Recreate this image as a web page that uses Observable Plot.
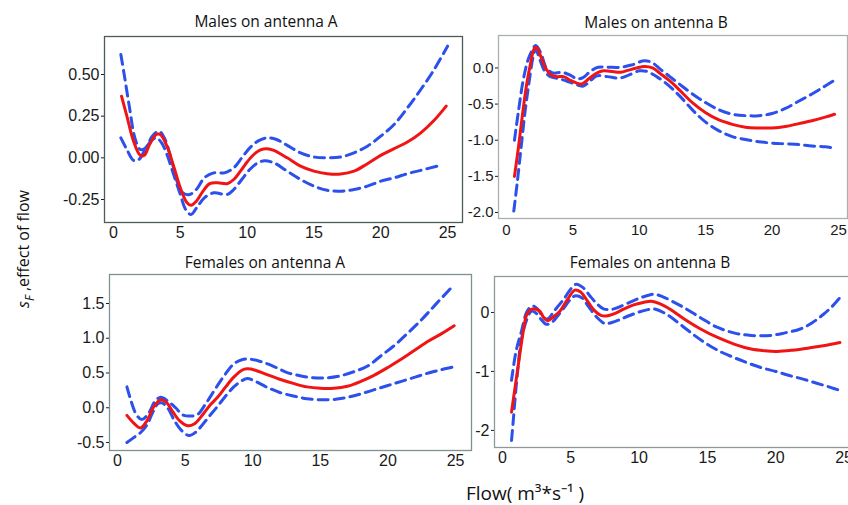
<!DOCTYPE html>
<html>
<head>
<meta charset="utf-8">
<script src="https://cdn.jsdelivr.net/npm/d3@7"></script>
<script src="https://cdn.jsdelivr.net/npm/@observablehq/plot@0.6"></script>
<style>
  html, body { margin: 0; padding: 0; background: #fff; }
  #wrap { position: relative; width: 848px; height: 505px; overflow: hidden; background: #fff; }
  .panel { position: absolute; }
  .title { position: absolute; transform: translate(-50%, -50%); font-family: "Open Sans", sans-serif; font-size: 15.5px; color: #111; white-space: nowrap; }
  #ylab { position: absolute; left: 25px; top: 249px; transform: translate(-50%, -50%) rotate(-90deg); font-family: "Open Sans", sans-serif; font-size: 16px; color: #111; white-space: nowrap; }
  #xlab { position: absolute; left: 525px; top: 493px; transform: translate(-50%, -50%); font-family: "Open Sans", sans-serif; font-size: 19px; line-height: 24px; color: #111; white-space: nowrap; }
</style>
</head>
<body>
<div id="wrap"></div>
<script>
// ---------- data (flow m^3/s, effect) ----------
const panelTitles = ["Males on antenna A", "Males on antenna B", "Females on antenna A", "Females on antenna B"];
const xTicks = [0, 5, 10, 15, 20, 25];
const yTicksMA = [-0.25, 0, 0.25, 0.5];
const yTicksMB = [-2, -1.5, -1, -0.5, 0];
const yTicksFA = [-0.5, 0, 0.5, 1, 1.5];
const yTicksFB = [-2, -1, 0];

const maleA_fit = [[0.6,0.37],[1.0,0.25],[1.5,0.10],[2.0,0.015],[2.3,0.015],[2.7,0.08],[3.2,0.14],[3.5,0.14],[4.0,0.07],[4.5,-0.05],[5.0,-0.18],[5.5,-0.27],[5.8,-0.285],[6.2,-0.26],[6.7,-0.2],[7.2,-0.155],[7.8,-0.15],[8.5,-0.155],[9.0,-0.13],[9.5,-0.08],[10.0,-0.025],[10.5,0.02],[11.0,0.048],[11.5,0.055],[12.0,0.045],[13.0,0.0],[14.0,-0.05],[15.0,-0.08],[16.0,-0.095],[17.0,-0.097],[18.0,-0.08],[19.0,-0.035],[20.0,0.015],[21.0,0.055],[22.0,0.095],[23.0,0.15],[24.0,0.225],[24.9,0.31]];
const maleA_upper = [[0.55,0.62],[0.8,0.5],[1.2,0.3],[1.6,0.12],[2.0,0.05],[2.4,0.06],[2.9,0.13],[3.4,0.16],[3.8,0.12],[4.3,0.0],[4.8,-0.15],[5.2,-0.21],[5.7,-0.22],[6.2,-0.19],[6.8,-0.12],[7.5,-0.09],[8.3,-0.09],[9.0,-0.06],[9.6,0.0],[10.2,0.06],[10.8,0.1],[11.5,0.12],[12.2,0.11],[13.0,0.075],[14.0,0.03],[15.0,0.005],[16.0,0.0],[17.0,0.005],[18.0,0.03],[19.0,0.07],[20.0,0.13],[21.0,0.2],[22.0,0.3],[23.0,0.41],[24.0,0.53],[25.0,0.67]];
const maleA_lower = [[0.55,0.12],[1.0,0.05],[1.5,-0.015],[1.9,-0.01],[2.3,0.04],[2.8,0.1],[3.2,0.12],[3.6,0.09],[4.0,0.02],[4.5,-0.1],[5.0,-0.22],[5.4,-0.31],[5.8,-0.34],[6.3,-0.29],[6.8,-0.24],[7.5,-0.21],[8.5,-0.22],[9.0,-0.19],[9.6,-0.13],[10.2,-0.07],[10.8,-0.03],[11.3,-0.018],[12.0,-0.03],[13.0,-0.08],[14.0,-0.13],[15.0,-0.17],[16.0,-0.195],[17.0,-0.2],[18.0,-0.19],[19.0,-0.17],[20.0,-0.14],[21.0,-0.12],[22.0,-0.095],[23.0,-0.075],[24.2,-0.05]];

const maleB_fit = [[0.6,-1.5],[0.9,-1.1],[1.2,-0.65],[1.5,-0.25],[1.8,0.05],[2.1,0.27],[2.3,0.28],[2.6,0.15],[3.0,-0.02],[3.4,-0.1],[3.8,-0.12],[4.3,-0.12],[4.8,-0.17],[5.3,-0.21],[5.7,-0.22],[6.2,-0.15],[6.8,-0.07],[7.3,-0.04],[8.0,-0.05],[8.6,-0.06],[9.2,-0.03],[9.8,0.0],[10.4,0.02],[11.0,0.0],[11.6,-0.08],[12.3,-0.18],[13.0,-0.3],[14.0,-0.48],[15.0,-0.62],[16.0,-0.72],[17.0,-0.78],[18.0,-0.82],[19.0,-0.83],[20.0,-0.83],[21.0,-0.81],[22.0,-0.77],[23.0,-0.73],[24.0,-0.68],[24.7,-0.64]];
const maleB_upper = [[0.6,-1.0],[0.9,-0.6],[1.3,-0.13],[1.7,0.15],[2.2,0.31],[2.6,0.2],[3.0,0.0],[3.5,-0.07],[4.2,-0.06],[4.8,-0.1],[5.3,-0.15],[5.8,-0.13],[6.3,-0.05],[6.9,0.01],[7.6,0.01],[8.6,0.01],[9.4,0.04],[10.4,0.1],[11.0,0.07],[11.6,-0.02],[12.3,-0.12],[13.0,-0.22],[14.0,-0.36],[15.0,-0.48],[16.0,-0.58],[17.0,-0.64],[18.0,-0.66],[19.0,-0.66],[20.0,-0.63],[21.0,-0.56],[22.0,-0.46],[23.0,-0.36],[24.0,-0.25],[24.7,-0.17]];
const maleB_lower = [[0.55,-1.98],[0.8,-1.6],[1.1,-1.1],[1.4,-0.6],[1.7,-0.2],[2.0,0.15],[2.2,0.26],[2.5,0.12],[2.9,-0.05],[3.3,-0.12],[4.0,-0.15],[4.8,-0.2],[5.4,-0.24],[5.8,-0.25],[6.3,-0.18],[6.8,-0.11],[7.6,-0.12],[8.5,-0.14],[9.2,-0.1],[10.0,-0.04],[10.6,-0.05],[11.3,-0.12],[12.0,-0.21],[13.0,-0.38],[14.0,-0.58],[15.0,-0.75],[16.0,-0.87],[17.0,-0.95],[18.0,-0.99],[19.0,-1.02],[20.0,-1.04],[21.0,-1.05],[22.0,-1.06],[23.0,-1.08],[24.0,-1.09],[24.7,-1.11]];

const femA_fit = [[0.7,-0.11],[1.2,-0.22],[1.7,-0.29],[2.2,-0.18],[2.7,0.02],[3.2,0.115],[3.6,0.08],[4.1,-0.06],[4.6,-0.19],[5.2,-0.26],[5.7,-0.23],[6.3,-0.1],[6.9,0.05],[7.4,0.15],[8.0,0.30],[8.6,0.44],[9.2,0.54],[9.6,0.56],[10.2,0.54],[11.0,0.48],[12.0,0.41],[13.0,0.35],[14.0,0.3],[15.0,0.28],[16.0,0.28],[17.0,0.31],[18.0,0.38],[19.0,0.47],[20.0,0.58],[21.0,0.7],[22.0,0.83],[23.0,0.96],[24.0,1.07],[24.9,1.18]];
const femA_upper = [[0.7,0.3],[1.0,0.1],[1.4,-0.1],[1.8,-0.17],[2.3,-0.08],[2.8,0.1],[3.2,0.15],[3.7,0.1],[4.3,0.0],[4.8,-0.1],[5.3,-0.12],[5.9,-0.1],[6.5,0.05],[7.0,0.2],[7.5,0.35],[8.0,0.49],[8.6,0.63],[9.2,0.69],[9.7,0.7],[10.5,0.67],[11.5,0.6],[12.5,0.51],[13.5,0.46],[14.5,0.43],[15.5,0.43],[16.5,0.46],[17.5,0.52],[18.5,0.6],[19.5,0.75],[20.5,0.9],[21.5,1.08],[22.5,1.27],[23.5,1.48],[24.6,1.71]];
const femA_lower = [[0.7,-0.5],[1.2,-0.43],[1.7,-0.36],[2.2,-0.24],[2.6,-0.07],[3.0,0.06],[3.3,0.07],[3.7,0.0],[4.2,-0.18],[4.7,-0.32],[5.3,-0.4],[5.8,-0.35],[6.3,-0.24],[6.8,-0.12],[7.4,0.02],[8.0,0.17],[8.6,0.3],[9.2,0.39],[9.6,0.42],[10.2,0.38],[11.0,0.3],[12.0,0.22],[13.0,0.17],[14.0,0.13],[15.0,0.115],[16.0,0.12],[17.0,0.15],[18.0,0.2],[19.0,0.26],[20.0,0.32],[21.0,0.38],[22.0,0.44],[23.0,0.5],[24.0,0.55],[24.9,0.59]];

const femB_fit = [[0.66,-1.69],[0.9,-1.3],[1.2,-0.82],[1.5,-0.35],[1.75,-0.05],[2.0,0.04],[2.3,0.06],[2.7,0.03],[3.0,-0.08],[3.3,-0.14],[3.7,-0.08],[4.2,0.02],[4.7,0.2],[5.3,0.38],[5.7,0.35],[6.2,0.2],[6.7,0.04],[7.2,-0.05],[7.6,-0.06],[8.2,-0.02],[8.9,0.06],[9.6,0.13],[10.3,0.17],[10.9,0.19],[11.5,0.15],[12.3,0.05],[13.3,-0.11],[14.5,-0.28],[15.7,-0.42],[17.0,-0.54],[18.2,-0.62],[19.2,-0.65],[20.1,-0.66],[21.2,-0.64],[22.5,-0.6],[23.6,-0.56],[24.7,-0.51]];
const femB_upper = [[0.66,-1.15],[1.0,-0.65],[1.4,-0.31],[1.8,0.02],[2.2,0.11],[2.6,0.05],[3.0,-0.09],[3.3,-0.11],[3.8,0.03],[4.5,0.23],[5.0,0.4],[5.4,0.48],[5.9,0.42],[6.4,0.28],[6.9,0.15],[7.4,0.06],[7.9,0.05],[8.4,0.08],[9.2,0.16],[9.9,0.23],[10.5,0.28],[11.1,0.31],[11.7,0.27],[12.5,0.18],[13.3,0.08],[14.5,-0.09],[15.7,-0.25],[17.0,-0.35],[18.2,-0.39],[19.6,-0.39],[20.6,-0.35],[21.8,-0.28],[22.7,-0.17],[23.5,-0.03],[24.2,0.12],[24.8,0.28]];
const femB_lower = [[0.66,-2.17],[0.8,-1.8],[0.95,-1.38],[1.15,-0.9],[1.32,-0.54],[1.7,-0.17],[2.1,0.02],[2.4,0.0],[2.8,-0.11],[3.2,-0.2],[3.6,-0.17],[4.0,-0.07],[4.5,0.08],[5.0,0.23],[5.3,0.28],[5.8,0.25],[6.3,0.1],[6.9,-0.08],[7.5,-0.19],[8.0,-0.17],[8.5,-0.13],[9.2,-0.06],[9.9,0.0],[10.5,0.04],[11.1,0.06],[12.0,-0.03],[13.0,-0.2],[14.0,-0.38],[15.0,-0.54],[16.0,-0.67],[17.0,-0.77],[18.0,-0.86],[19.0,-0.94],[20.0,-1.0],[21.0,-1.07],[22.0,-1.13],[23.0,-1.2],[24.0,-1.27],[24.8,-1.33]];

// ---------- layout ----------
const wrap = document.getElementById("wrap");
const RED = "#f01414";
const BLUE = "#2b50ec";

function addPanel(o) {
  const ML = 50, MR = 2, MT = 4, MB = 26;
  const fw = o.fr[1] - o.fr[0], fh = o.fb[1] - o.fb[0];
  const toObj = a => a.map(([x, y]) => ({x, y}));
  const chart = Plot.plot({
    width: fw + ML + MR,
    height: fh + MT + MB,
    marginLeft: ML, marginRight: MR, marginTop: MT, marginBottom: MB,
    style: {fontFamily: "'Liberation Sans', Arial, sans-serif", fontSize: o.fs + "px", color: "#1a1a1a", background: "transparent", overflow: "visible"},
    x: {domain: o.xd, ticks: xTicks, tickSize: 0, tickPadding: o.xpad, tickFormat: d => String(d), label: null},
    y: {domain: o.yd, ticks: o.yt, tickSize: 3, tickPadding: 2, tickFormat: o.yf, label: null},
    marks: [
      Plot.frame({stroke: o.frame, strokeWidth: 1.3}),
      Plot.line(toObj(o.lower), {x: "x", y: "y", stroke: BLUE, strokeWidth: 3, strokeDasharray: "10,6", curve: "catmull-rom"}),
      Plot.line(toObj(o.upper), {x: "x", y: "y", stroke: BLUE, strokeWidth: 3, strokeDasharray: "10,6", curve: "catmull-rom"}),
      Plot.line(toObj(o.fit), {x: "x", y: "y", stroke: RED, strokeWidth: 3, curve: "catmull-rom"})
    ]
  });
  chart.classList.add("panel");
  chart.style.left = (o.fr[0] - ML) + "px";
  chart.style.top = (o.fb[0] - MT) + "px";
  wrap.appendChild(chart);
  const t = document.createElement("div");
  t.className = "title";
  t.textContent = o.title;
  t.style.left = o.tx + "px";
  t.style.top = o.ty + "px";
  wrap.appendChild(t);
}

// pixel-to-data domain derived from the reference tick positions
addPanel({title: panelTitles[0], fr: [104, 462], fb: [36, 222], xd: [-0.674, 26.12], yd: [-0.388, 0.728],
  yt: yTicksMA, yf: d => d.toFixed(2), fs: 16, xpad: 4, frame: "#4d5b5b",
  fit: maleA_fit, upper: maleA_upper, lower: maleA_lower, tx: 266, ty: 21});
addPanel({title: panelTitles[1], fr: [498, 847], fb: [35, 218], xd: [-0.602, 25.68], yd: [-2.083, 0.449],
  yt: yTicksMB, yf: d => d.toFixed(1), fs: 15, xpad: 6, frame: "#a9b0b0",
  fit: maleB_fit, upper: maleB_upper, lower: maleB_lower, tx: 656, ty: 22});
addPanel({title: panelTitles[2], fr: [109, 471], fb: [274, 450], xd: [-0.59, 26.18], yd: [-0.615, 1.917],
  yt: yTicksFA, yf: d => d.toFixed(1), fs: 16, xpad: 4, frame: "#7f9191",
  fit: femA_fit, upper: femA_upper, lower: femA_lower, tx: 265, ty: 262});
addPanel({title: panelTitles[3], fr: [494, 852], fb: [276, 447], xd: [-0.586, 25.62], yd: [-2.29, 0.61],
  yt: yTicksFB, yf: d => String(d), fs: 16, xpad: 4, frame: "#8f9999",
  fit: femB_fit, upper: femB_upper, lower: femB_lower, tx: 650, ty: 262});

const yl = document.createElement("div");
yl.id = "ylab";
yl.innerHTML = "<i>s</i><sub style=\"font-size:12px\"><i>F</i></sub> ,effect of flow";
wrap.appendChild(yl);
const xl = document.createElement("div");
xl.id = "xlab";
xl.textContent = "Flow( m³*s⁻¹ )";
wrap.appendChild(xl);
</script>
</body>
</html>
